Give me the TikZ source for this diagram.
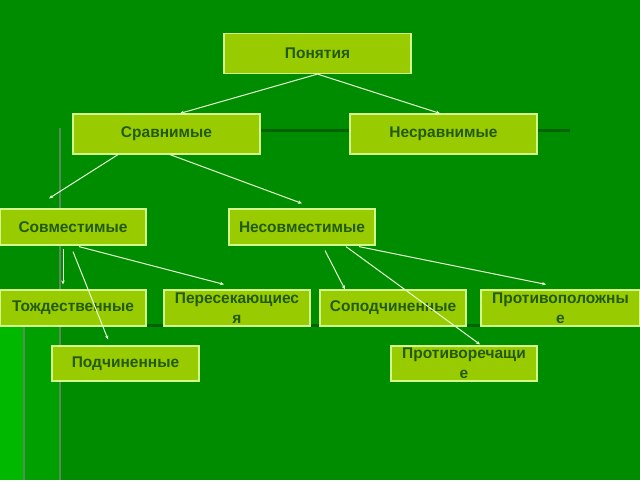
\documentclass[tikz,border=0pt]{standalone}
\usepackage{fontspec}
\setmainfont{Liberation Sans}
\usetikzlibrary{positioning,arrows.meta}

\definecolor{slidegreen}{RGB}{0,140,0}
\definecolor{stripbright}{RGB}{0,184,0}
\definecolor{stripmid}{RGB}{0,160,0}
\definecolor{rulegrey}{RGB}{88,140,88}
\definecolor{ruledark}{RGB}{0,98,0}
\definecolor{boxfill}{RGB}{153,204,0}
\definecolor{boxedge}{RGB}{210,255,140}
\definecolor{textgreen}{RGB}{34,90,8}
\definecolor{arrowlight}{RGB}{230,255,210}

\tikzset{
  concept/.style={draw=boxedge, fill=boxfill, line width=1.2pt, text=textgreen,
      font=\bfseries\fontsize{15.5}{20}\selectfont, align=center, inner sep=1pt},
  wide/.style={concept, minimum width=187pt, minimum height=40pt},
  narrow/.style={concept, minimum width=146pt, minimum height=36pt},
  link/.style={draw=arrowlight, line width=1pt, -{Stealth[length=4pt,width=3.5pt]}}
}

\begin{document}
\begin{tikzpicture}[x=1pt, y=-1pt]

      % Slide background
      \useasboundingbox (0,0) rectangle (640,480);
      \fill[slidegreen] (0,0) rectangle (640,480);
      \fill[stripmid] (0,326) rectangle (60,480);
      \fill[stripbright] (0,326) rectangle (23,480);

      % Decorative rules of the slide
      \draw[rulegrey, line width=2pt] (24,326) -- (24,480);
      \draw[rulegrey, line width=2pt] (60,128) -- (60,480);
      \draw[ruledark, line width=3pt] (73,130) -- (570,130);
      \draw[ruledark, line width=3pt] (146,325) -- (481,325);

      % Top concept
      \node(ponyatiya)[wide] at (317.5,53.5) {Понятия};

      % Second level
      \node(sravn)[wide] at (166.5,134) {Сравнимые};
      \node(nesravn)[wide] at (443.5,134) {Несравнимые};

      % Third level
      \node(sovm)[narrow] at (73,227) {Совместимые};
      \node(nesovm)[narrow] at (302,227) {Несовместимые};

      % Kinds of compatible concepts
      \node(tozhd)[narrow] at (73,308) {Тождественные};
      \node(peres)[narrow] at (237,308) {Пересекающиес\\я};
      \node(podch)[narrow, minimum width=147pt, minimum height=35pt] at (125.5,363.5) {Подчиненные};

      % Kinds of incompatible concepts
      \node(sopodch)[narrow] at (393,308) {Соподчиненные};
      \node(protivopol)[narrow, minimum width=159pt] at (560.5,308) {Противоположны\\е};
      \node(protivorech)[narrow, minimum height=35pt] at (464,363.5) {Противоречащи\\е};

      % Arrows from the top concept
      \draw[link] (ponyatiya.south) -- ([xshift=13.5pt]sravn.north);
      \draw[link] (ponyatiya.south) -- ([xshift=-3.5pt]nesravn.north);

      % Arrows from Сравнимые
      \draw[link] ([xshift=-48.5pt]sravn.south) -- ([xshift=-24pt, yshift=10pt]sovm.north);
      \draw[link] ([xshift=3.5pt]sravn.south) -- ([yshift=5pt]nesovm.north);

      % Arrows from Совместимые
      \draw[link] ([xshift=-10pt, yshift=-3pt]sovm.south) -- ([xshift=-10pt, yshift=5pt]tozhd.north);
      \draw[link] ([yshift=-6pt]sovm.south) -- ([xshift=-17.5pt, yshift=6pt]podch.north);
      \draw[link] ([xshift=6pt, yshift=-1pt]sovm.south) -- ([xshift=-13pt, yshift=5pt]peres.north);

      % Arrows from Несовместимые
      \draw[link] ([xshift=23pt, yshift=-5pt]nesovm.south) -- ([xshift=-48pt]sopodch.north);
      \draw[link] ([xshift=44pt, yshift=-1pt]nesovm.south) -- ([xshift=16pt, yshift=1pt]protivorech.north);
      \draw[link] ([xshift=57pt, yshift=-1pt]nesovm.south) -- ([xshift=-14.5pt, yshift=5pt]protivopol.north);

\end{tikzpicture}
\end{document}
